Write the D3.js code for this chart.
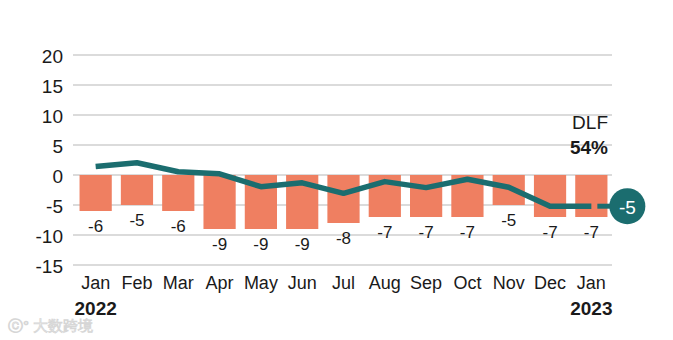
<!DOCTYPE html>
<html>
<head>
<meta charset="utf-8">
<script src="https://cdn.jsdelivr.net/npm/d3@7"></script>
<style>
  html, body { margin: 0; padding: 0; background: #fff; }
  svg { display: block; font-family: "Liberation Sans", Arial, Helvetica, sans-serif; }
</style>
</head>
<body>
<svg id="chart" width="673" height="340"></svg>
<script>
const months = ["Jan","Feb","Mar","Apr","May","Jun","Jul","Aug","Sep","Oct","Nov","Dec","Jan"];
const years = ["2022","","","","","","","","","","","","2023"];
const barValues = [-6,-5,-6,-9,-9,-9,-8,-7,-7,-7,-5,-7,-7];
const lineValues = [1.4,2.05,0.55,0.2,-1.95,-1.3,-3.05,-1.1,-2.1,-0.7,-2.05,-5.2,-5.2];
const yTicks = [20,15,10,5,0,-5,-10,-15];
const lineLabel = "-5";
const seriesLabel = "DLF";
const seriesShare = "54%";

const svg = d3.select("#chart");
const barColor = "#ef7f61";
const teal = "#1b6d6f";
const textColor = "#1a1a1a";

const idx = months.map((d, i) => i);
const x = d3.scaleBand().domain(idx).range([75, 612]).paddingInner(0.22).paddingOuter(0.11);
const y = d3.scaleLinear().domain([-15, 20]).range([265, 55]);
const gridX0 = 73, gridX1 = 612;

// gridlines
svg.append("g").selectAll("line").data(yTicks).join("line")
  .attr("x1", gridX0).attr("x2", gridX1)
  .attr("y1", d => y(d)).attr("y2", d => y(d))
  .attr("stroke", "#cfcfcf").attr("stroke-width", 1.5);

// y tick labels
svg.append("g").selectAll("text").data(yTicks).join("text")
  .attr("x", 63).attr("y", d => y(d) + 1)
  .attr("text-anchor", "end").attr("dominant-baseline", "central")
  .attr("font-size", 19).attr("fill", textColor)
  .text(d => d);

// bars
svg.append("g").selectAll("rect").data(barValues).join("rect")
  .attr("x", (d, i) => x(i)).attr("width", x.bandwidth())
  .attr("y", d => y(Math.max(0, d)))
  .attr("height", d => Math.abs(y(d) - y(0)))
  .attr("fill", barColor);

// bar labels
svg.append("g").selectAll("text").data(barValues).join("text")
  .attr("x", (d, i) => x(i) + x.bandwidth() / 2)
  .attr("y", d => y(d) + 15.5)
  .attr("text-anchor", "middle").attr("dominant-baseline", "central")
  .attr("font-size", 17).attr("fill", textColor)
  .text(d => d);

// line
const cx = i => x(i) + x.bandwidth() / 2;
const line = d3.line().x((d, i) => cx(i)).y(d => y(d));
svg.append("path").datum(lineValues)
  .attr("d", line)
  .attr("fill", "none").attr("stroke", teal).attr("stroke-width", 5.5)
  .attr("stroke-linejoin", "round");

// end marker
const last = lineValues.length - 1;
const circX = cx(last) + 36, circY = y(lineValues[last]);
svg.append("line")
  .attr("x1", cx(last) + 6).attr("x2", circX)
  .attr("y1", circY).attr("y2", circY)
  .attr("stroke", teal).attr("stroke-width", 5);
svg.append("circle").attr("cx", circX).attr("cy", circY).attr("r", 18)
  .attr("fill", teal);
svg.append("text").attr("x", circX).attr("y", circY + 1)
  .attr("text-anchor", "middle").attr("dominant-baseline", "central")
  .attr("font-size", 19).attr("fill", "#fff").text(lineLabel);

// series annotation
svg.append("text").attr("x", 608).attr("y", 122)
  .attr("text-anchor", "end").attr("dominant-baseline", "central")
  .attr("font-size", 19).attr("fill", textColor).text(seriesLabel);
svg.append("text").attr("x", 608).attr("y", 147)
  .attr("text-anchor", "end").attr("dominant-baseline", "central")
  .attr("font-size", 19).attr("font-weight", "bold").attr("fill", textColor).text(seriesShare);

// x axis labels
svg.append("g").selectAll("text").data(months).join("text")
  .attr("x", (d, i) => cx(i)).attr("y", 289)
  .attr("text-anchor", "middle")
  .attr("font-size", 18).attr("fill", textColor)
  .text(d => d);
svg.append("g").selectAll("text").data(years).join("text")
  .attr("x", (d, i) => cx(i)).attr("y", 315)
  .attr("text-anchor", "middle")
  .attr("font-size", 19).attr("font-weight", "bold").attr("fill", textColor)
  .text(d => d);

// faint watermark
svg.append("text").attr("x", 8).attr("y", 331)
  .attr("font-size", 15).attr("fill", "#fff").attr("stroke", "#d6d6d6").attr("stroke-width", 0.8)
  .text("ⓒ° 大数跨境");
</script>
</body>
</html>
